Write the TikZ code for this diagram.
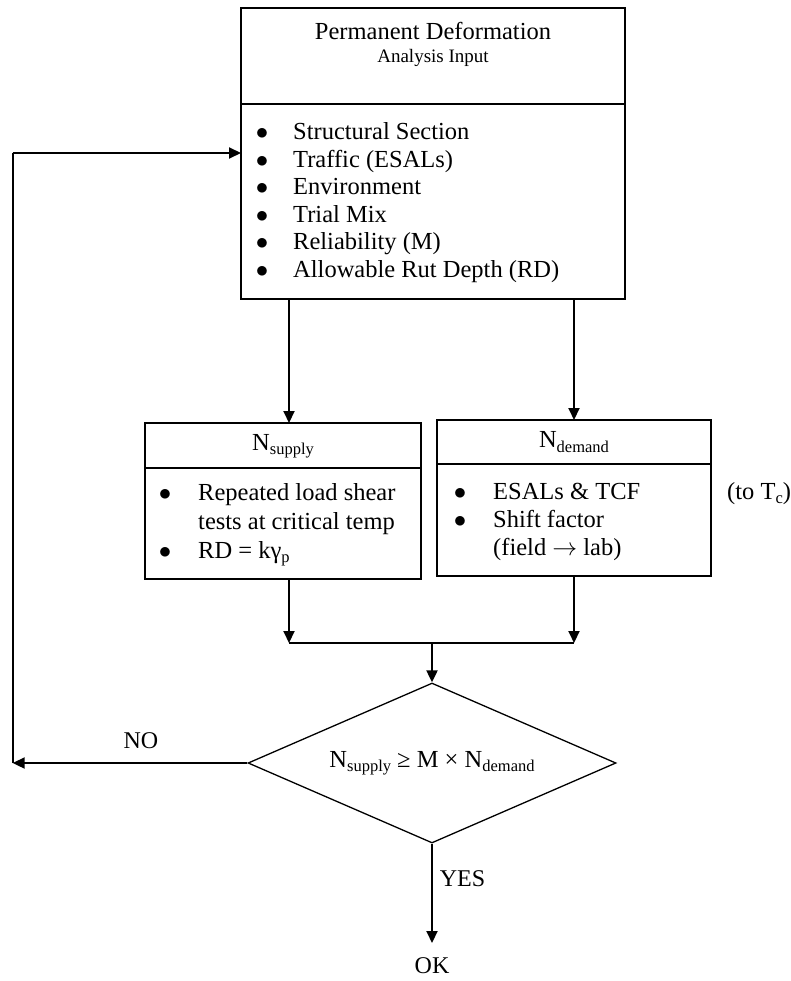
\documentclass[tikz,border=0pt]{standalone}
\usepackage{fontspec}
\setmainfont{Liberation Serif}
\usetikzlibrary{arrows.meta,shapes.geometric}
\newcommand{\lowsub}[1]{\raisebox{-0.17em}{\fontsize{16.5}{17}\selectfont #1}}
\begin{document}
\begin{tikzpicture}[x=1pt,y=-1pt,
  box/.style={draw, line width=1.7pt, inner sep=0pt, outer sep=0pt, anchor=north west},
  divider/.style={line width=1.7pt},
  conn/.style={line width=2pt, -{Triangle[length=12pt,width=11pt]}},
  plain/.style={line width=1.7pt},
  body/.style={font=\fontsize{24.5}{28}\selectfont, inner sep=0pt},
  item/.style={body, anchor=base west},
  bul/.style={body, anchor=base},
  lbl/.style={font=\fontsize{24}{28}\selectfont, inner sep=0pt},
  decision/.style={diamond, draw, line width=1.3pt, aspect=2.3, inner sep=0pt,
    minimum width=368pt, minimum height=160pt, font=\fontsize{24.5}{28}\selectfont}
]
\useasboundingbox (0,0) rectangle (791,981);

% ---- input box ----
\node[box, minimum width=384pt, minimum height=291pt] (inp) at (241,8) {};
\draw[divider] (241,104) -- (625,104);
\node[body] (t1) at (433,31) {Permanent Deformation};
\node[font=\fontsize{19}{22}\selectfont, inner sep=0pt] (t2) at (433,58) {Analysis Input};
\foreach \y/\t [count=\i] in {140/Structural Section, 167.5/Traffic (ESALs), 195/Environment,
    222.5/Trial Mix, 250/Reliability (M), 277.5/Allowable Rut Depth (RD)} {
  \node[bul] (ib\i) at (262,\y) {$\bullet$};
  \node[item] (it\i) at (293,\y) {\t};
}

% ---- N supply box ----
\node[box, minimum width=276pt, minimum height=156pt] (sup) at (145,423) {};
\draw[divider] (145,468) -- (421,468);
\node[body] (suph) at (283,446) {N\lowsub{supply}};
\node[bul] (sb1) at (165,500) {$\bullet$};
\node[item] (si1) at (198,500) {Repeated load shear};
\node[item] (si2) at (198,529) {tests at critical temp};
\node[bul] (sb3) at (165,558) {$\bullet$};
\node[item] (si3) at (198,558) {RD = kγ\lowsub{p}};

% ---- N demand box ----
\node[box, minimum width=274pt, minimum height=156pt] (dem) at (437,420) {};
\draw[divider] (437,464) -- (711,464);
\node[body] (demh) at (574,442) {N\lowsub{demand}};
\node[bul] (db1) at (460,499) {$\bullet$};
\node[item] (di1) at (493,499) {ESALs \& TCF};
\node[bul] (db2) at (460,527) {$\bullet$};
\node[item] (di2) at (493,527) {Shift factor};
\node[item] (di3) at (493,555) {(field $\rightarrow$ lab)};
\node[item] (totc) at (727,499) {(to T\lowsub{c})};

% ---- decision ----
\node[decision] (dec) at (432,763) {N\lowsub{supply} ≥ M × N\lowsub{demand}};

% ---- connectors ----
\coordinate (s1) at (289,0);
\coordinate (m) at (432,643);
\coordinate (L) at (12.7,763);
\coordinate (T) at (12.7,153);
\coordinate (okin) at (432,943);

\draw[conn] (inp.south -| s1) -- (sup.north -| s1);
\draw[conn] (inp.south -| dem.north) -- (dem.north);
\draw[conn] (sup.south -| s1) -- (s1 |- m);
\draw[conn] (dem.south) -- (dem.south |- m);
\draw[plain] (s1 |- m) -- (dem.south |- m);
\draw[conn] (m) -- (dec.north);
\draw[conn] (dec.west) -- (L);
\draw[plain] (L) -- (T);
\draw[conn] (T) -- (T -| inp.west);
\draw[conn] (dec.south) -- (okin);

\node[lbl] (no) at (141,741) {NO};
\node[lbl] (yes) at (462.5,879) {YES};
\node[lbl] (ok) at (432,966) {OK};
\end{tikzpicture}
\end{document}
